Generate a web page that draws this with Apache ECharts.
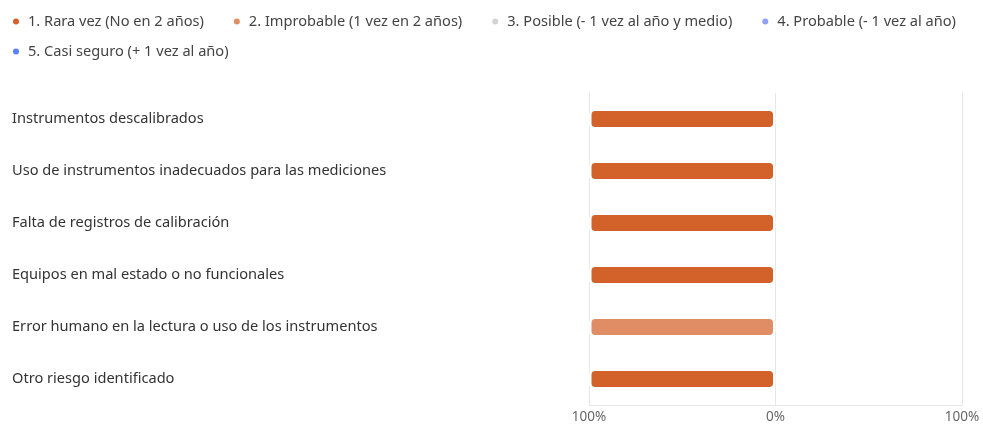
<!DOCTYPE html>
<html><head><meta charset="utf-8">
<script src="https://cdn.jsdelivr.net/npm/echarts@6/dist/echarts.min.js"></script>
<style>html,body{margin:0;padding:0;background:#fff}#c{width:983px;height:424px}</style>
</head><body><div id="c"></div>
<script>
const categories = [
  "Instrumentos descalibrados",
  "Uso de instrumentos inadecuados para las mediciones",
  "Falta de registros de calibración",
  "Equipos en mal estado o no funcionales",
  "Error humano en la lectura o uso de los instrumentos",
  "Otro riesgo identificado"
];
const seriesNames = [
  "1. Rara vez (No en 2 años)",
  "2. Improbable (1 vez en 2 años)",
  "3. Posible (- 1 vez al año y medio)",
  "4. Probable (- 1 vez al año)",
  "5. Casi seguro (+ 1 vez al año)"
];
// percentage of responses per category (left side = options 1-2, right side = 4-5)
const rara = [100, 100, 100, 100, 0, 100];
const improbable = [0, 0, 0, 0, 100, 0];
const posible = [0, 0, 0, 0, 0, 0];
const probable = [0, 0, 0, 0, 0, 0];
const casiSeguro = [0, 0, 0, 0, 0, 0];
const tickValues = [-100, 0, 100];
const colors = ["#D2622A", "#E08D66", "#D3D3D3", "#8FA0F5", "#5B7FF5"];

const font = "'Noto Sans', 'Open Sans', sans-serif";
const chart = echarts.init(document.getElementById('c'), null, {renderer: 'canvas'});
const mk = (name, data, sign, color) => ({
  name, type: 'bar', stack: 'all',
  data: data.map(v => v === 0 ? '-' : sign * v),
  barWidth: 21,
  itemStyle: {color, borderColor: '#fff', borderWidth: 2.5, borderRadius: 5},
  emphasis: {disabled: true}
});
const legendText = {fontSize: 14.6, color: '#444', fontFamily: font, padding: [0, 0, 0, 3]};
chart.setOption({
  animation: false,
  color: colors,
  textStyle: {fontFamily: font},
  legend: [
    {data: seriesNames.slice(0, 4), left: 11, top: 14, padding: 0, width: 970, icon: 'circle', itemWidth: 8, itemHeight: 8, itemGap: 28,
     textStyle: legendText},
    {data: seriesNames.slice(4), left: 11, top: 44, padding: 0, icon: 'circle', itemWidth: 8, itemHeight: 8,
     textStyle: legendText}
  ],
  grid: {left: 589, right: 21, top: 93, bottom: 19},
  xAxis: {
    type: 'value', min: -100, max: 100, interval: 100,
    axisLine: {show: true, lineStyle: {color: '#E6E6E6', width: 1}}, axisTick: {show: false},
    splitLine: {show: true, lineStyle: {color: '#E6E6E6', width: 1}},
    axisLabel: {formatter: v => tickValues.includes(v) ? Math.abs(v) + '%' : '', color: '#666', fontSize: 13.5, margin: 5, fontFamily: font}
  },
  yAxis: {
    type: 'category', data: categories, inverse: true,
    axisLine: {show: false}, axisTick: {show: false},
    axisLabel: {align: 'left', margin: 577, color: '#333', fontSize: 14.6, fontFamily: font}
  },
  series: [
    mk(seriesNames[0], rara, -1, colors[0]),
    mk(seriesNames[1], improbable, -1, colors[1]),
    mk(seriesNames[2], posible, 1, colors[2]),
    mk(seriesNames[3], probable, 1, colors[3]),
    mk(seriesNames[4], casiSeguro, 1, colors[4])
  ]
});
</script></body></html>
